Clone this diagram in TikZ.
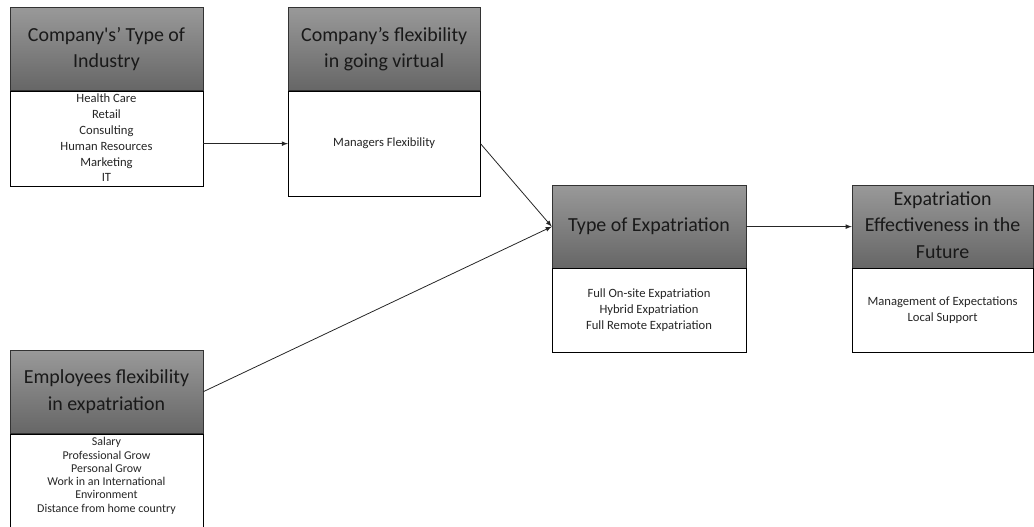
\documentclass[tikz,border=0pt]{standalone}
\usepackage{fontspec}
\setmainfont{Carlito}
\usetikzlibrary{positioning,arrows}

\tikzset{
  head/.style={draw=black!80, anchor=north west, minimum width=#1, minimum height=2.2cm,
    inner sep=0pt, top color=black!40, bottom color=black!60, text=black!90,
    font=\fontsize{15}{20}\selectfont},
  head/.default=5.1cm,
  body/.style={draw, fill=white, minimum width=#1, inner sep=0pt, text=black!85,
    font=\fontsize{9.5}{12}\selectfont},
  body/.default=5.1cm,
  link/.style={-latex, draw=black!85, line width=0.6pt}
}

\begin{document}
\begin{tikzpicture}
  \useasboundingbox (0,0) rectangle (27.36,-13.92);
  % headers
  \node[head] (ind) at (0.26,-0.19) {
    \begin{tabular}{c}
Company\textquotesingle s' Type of\\ Industry
    \end{tabular}};
  \node[head=5.08cm] (virt) at (7.62,-0.19) {
    \begin{tabular}{c}
Company's flexibility\\ in going virtual
    \end{tabular}};
  \node[head=5.13cm] (type) at (14.6,-4.89) {Type of Expatriation};
  \node[head=4.79cm] (fut) at (22.54,-4.89) {
    \begin{tabular}{c}
Expatriation\\ Effectiveness in the\\ Future
    \end{tabular}};
  \node[head] (emp) at (0.26,-9.26) {
    \begin{tabular}{c}
Employees flexibility\\ in expatriation
    \end{tabular}};
  % bodies
  \node[body, minimum height=2.51cm, below=0pt of ind] (indb) {
    \begin{tabular}{c}
Health Care\\ Retail\\ Consulting\\ Human Resources\\ Marketing\\ IT
    \end{tabular}};
  \node[body=5.08cm, minimum height=2.78cm, below=0pt of virt] (virtb) {Managers Flexibility};
  \node[body=5.13cm, minimum height=2.22cm, below=0pt of type] (typeb) {
    \begin{tabular}{c}
Full On-site Expatriation\\ Hybrid Expatriation\\ Full Remote Expatriation
    \end{tabular}};
  \node[body=4.79cm, minimum height=2.22cm, below=0pt of fut] (futb) {
    \begin{tabular}{c}
Management of Expectations\\ Local Support
    \end{tabular}};
  \node[body, inner ysep=2pt, font=\fontsize{9}{10}\selectfont, below=0pt of emp] (empb) {
    \begin{tabular}{c}
Salary\\ Professional Grow\\ Personal Grow\\ Work in an International\\ Environment\\ Distance from home country\rule[-1cm]{0pt}{0pt}
    \end{tabular}};
  % connectors
  \draw[link] (virtb.west -| indb.east) -- (virtb.west);
  \draw[link] (virtb.east) -- (type.west);
  \draw[link] (emp.east) -- (type.west);
  \draw[link] (type.east) -- (fut.west);
\end{tikzpicture}
\end{document}
